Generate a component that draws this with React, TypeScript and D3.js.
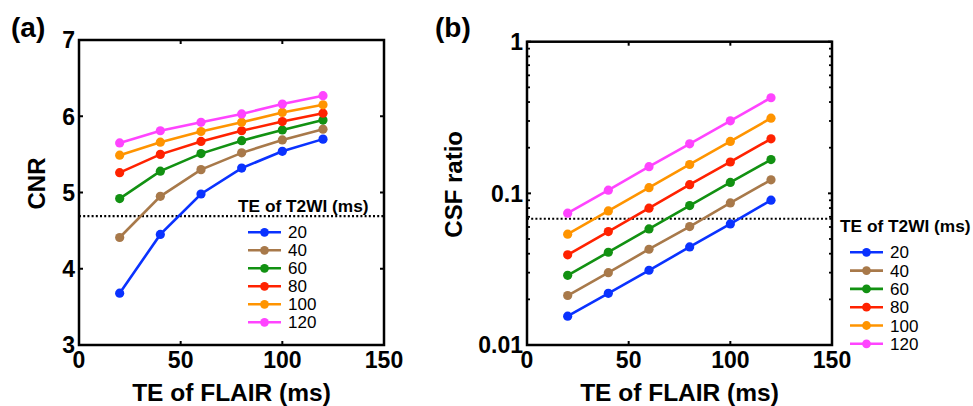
import React from "react";
import { scaleLinear, scaleLog, line } from "d3";

// TE of FLAIR (ms) on the x axis
const teFlair = [20, 40, 60, 80, 100, 120];
// TE of T2WI (ms), one series each
const teT2wi = [20, 40, 60, 80, 100, 120];
const seriesColors = ["#0a32ff", "#a8794a", "#129112", "#ff2200", "#ff9400", "#ff44ff"];

// panel (a): CNR
const cnr20 = [3.68, 4.45, 4.98, 5.32, 5.54, 5.7];
const cnr40 = [4.41, 4.95, 5.3, 5.52, 5.69, 5.83];
const cnr60 = [4.92, 5.28, 5.51, 5.68, 5.82, 5.95];
const cnr80 = [5.26, 5.5, 5.67, 5.81, 5.93, 6.04];
const cnr100 = [5.49, 5.66, 5.8, 5.92, 6.05, 6.15];
const cnr120 = [5.65, 5.81, 5.92, 6.03, 6.16, 6.27];
const cnrThreshold = 4.69;
const cnrTicks = [3, 4, 5, 6, 7];

// panel (b): CSF ratio
const csf20 = [0.0155, 0.0219, 0.0311, 0.0443, 0.0629, 0.0902];
const csf40 = [0.0212, 0.03, 0.0428, 0.0604, 0.0865, 0.1228];
const csf60 = [0.0288, 0.0409, 0.0583, 0.0831, 0.118, 0.167];
const csf80 = [0.0393, 0.056, 0.0799, 0.114, 0.161, 0.229];
const csf100 = [0.0538, 0.0766, 0.109, 0.155, 0.22, 0.313];
const csf120 = [0.074, 0.105, 0.15, 0.212, 0.301, 0.427];
const csfThreshold = 0.068;

const xTicks = [0, 50, 100, 150];

const font = "'Liberation Sans', Arial, sans-serif";

function Panel({ x, y, yTicks, minorTicks, yFormat, series, threshold, label, yTitle, yTitleX, legend }) {
  const [x0, x1] = x.range();
  const [y0, y1] = y.range();
  const midX = (x0 + x1) / 2;
  const midY = (y0 + y1) / 2;
  const path = line()
    .x((d) => x(d[0]))
    .y((d) => y(d[1]));

  return (
    <g fontFamily={font}>
      <text x={label.x} y={36.5} fontSize={28} fontWeight="bold">{label.text}</text>

      {/* threshold */}
      <line x1={x0} x2={x1} y1={y(threshold)} y2={y(threshold)} stroke="#000" strokeWidth={2.2} strokeDasharray="2,2.2" />

      {/* minor ticks */}
      {minorTicks.map((t, i) => (
        <g key={`mn${i}`} stroke="#000" strokeWidth={1.8}>
          <line x1={x0} x2={x0 + 3} y1={y(t)} y2={y(t)} />
          <line x1={x1} x2={x1 - 3} y1={y(t)} y2={y(t)} />
        </g>
      ))}
      {yTicks.map((t, i) => (
        <g key={`yt${i}`}>
          <line x1={x0} x2={x0 + 4} y1={y(t)} y2={y(t)} stroke="#000" strokeWidth={2} />
          <line x1={x1} x2={x1 - 4} y1={y(t)} y2={y(t)} stroke="#000" strokeWidth={2} />
          <text x={x0 - 4} y={y(t)} dy="0.36em" textAnchor="end" fontSize={23} fontWeight="bold">{yFormat(t)}</text>
        </g>
      ))}
      {xTicks.map((t, i) => (
        <g key={`xt${i}`}>
          <line x1={x(t)} x2={x(t)} y1={y0} y2={y0 - 4} stroke="#000" strokeWidth={2} />
          <line x1={x(t)} x2={x(t)} y1={y1} y2={y1 + 4} stroke="#000" strokeWidth={2} />
          <text x={x(t)} y={368} textAnchor="middle" fontSize={23} fontWeight="bold">{t}</text>
        </g>
      ))}
      <rect x={x0} y={y1} width={x1 - x0} height={y0 - y1} fill="none" stroke="#000" strokeWidth={2.5} />

      {series.map((s, i) => (
        <g key={`s${i}`}>
          <path d={path(teFlair.map((t, j) => [t, s[j]]))} fill="none" stroke={seriesColors[i]} strokeWidth={2.6} />
          {teFlair.map((t, j) => (
            <circle key={j} cx={x(t)} cy={y(s[j])} r={4.6} fill={seriesColors[i]} />
          ))}
        </g>
      ))}

      <text x={midX} y={401} textAnchor="middle" fontSize={24.5} fontWeight="bold">TE of FLAIR (ms)</text>
      <text transform={`translate(${yTitleX},${midY - 9}) rotate(-90)`} textAnchor="middle" fontSize={24} fontWeight="bold">{yTitle}</text>

      {/* legend */}
      <text x={legend.x} y={legend.y} fontSize={17.3} fontWeight="bold">TE of T2WI (ms)</text>
      {teT2wi.map((te, i) => {
        const ry = legend.y + 20.8 + i * legend.step;
        return (
          <g key={`lg${i}`}>
            <line x1={legend.x + 10} x2={legend.x + 43} y1={ry} y2={ry} stroke={seriesColors[i]} strokeWidth={2.6} />
            <circle cx={legend.x + 26.5} cy={ry} r={4.4} fill={seriesColors[i]} />
            <text x={legend.x + 50} y={ry} dy="0.36em" fontSize={17}>{te}</text>
          </g>
        );
      })}
    </g>
  );
}

export default function App() {
  const xa = scaleLinear().domain([0, 150]).range([79, 384]);
  const ya = scaleLinear().domain([3, 7]).range([345, 40]);
  const xb = scaleLinear().domain([0, 150]).range([527, 832]);
  const yb = scaleLog().domain([0.01, 1]).range([345, 41.7]);
  const logTicks = yb.ticks();
  const majorLog = logTicks.filter((t) => Math.abs(Math.log10(t) - Math.round(Math.log10(t))) < 1e-9);
  const minorLog = logTicks.filter((t) => !majorLog.includes(t));

  return (
    <div style={{ position: "fixed", left: 0, top: 0 }}>
      <svg width={973} height={406} style={{ display: "block", background: "#fff" }}>
        <Panel
          x={xa}
          y={ya}
          yTicks={cnrTicks}
          minorTicks={[]}
          yFormat={(t) => String(t)}
          series={[cnr20, cnr40, cnr60, cnr80, cnr100, cnr120]}
          threshold={cnrThreshold}
          label={{ x: 11, text: "(a)" }}
          yTitle="CNR"
          yTitleX={45}
          legend={{ x: 238, y: 211.5, step: 18 }}
        />
        <Panel
          x={xb}
          y={yb}
          yTicks={majorLog}
          minorTicks={minorLog}
          yFormat={(t) => (t >= 1 ? "1" : String(+t.toPrecision(1)))}
          series={[csf20, csf40, csf60, csf80, csf100, csf120]}
          threshold={csfThreshold}
          label={{ x: 435, text: "(b)" }}
          yTitle="CSF ratio"
          yTitleX={461.5}
          legend={{ x: 840, y: 231.5, step: 18.3 }}
        />
      </svg>
    </div>
  );
}
